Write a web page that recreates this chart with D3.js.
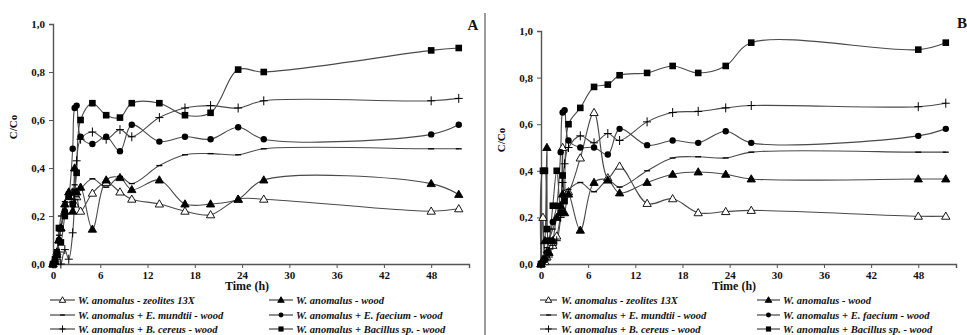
<!DOCTYPE html>
<html>
<head>
<meta charset="utf-8">
<script src="https://cdn.jsdelivr.net/npm/d3@7"></script>
<style>
body{margin:0;background:#fff;}
svg{display:block;}
text{font-family:"Liberation Serif","Times New Roman",serif;fill:#111;}
</style>
</head>
<body>
<svg id="chart" width="967" height="335"></svg>
<script>
// ---------- DATA ----------
const times = [0, 0.25, 0.5, 0.75, 1, 1.5, 2, 2.5, 2.75, 3, 3.5, 5, 6.75, 8.5, 10, 13.5, 16.75, 20, 23.5, 26.75, 48, 51.5];
const xTicks = [0, 6, 12, 18, 24, 30, 36, 42, 48];
const yTicks = [0, 0.2, 0.4, 0.6, 0.8, 1.0];
const seriesNames = [
  "W. anomalus - zeolites 13X",
  "W. anomalus - wood",
  "W. anomalus + E. mundtii - wood",
  "W. anomalus + E. faecium - wood",
  "W. anomalus + B. cereus - wood",
  "W. anomalus + Bacillus sp. - wood"
];
const seriesMarkers = ["triOpen", "triFilled", "dash", "circle", "plus", "square"];

// Panel A
const aZeolites = [0, 0.02, 0.05, 0.1, 0.15, 0.22, 0.27, 0.3, 0.25, 0.28, 0.22, 0.295, 0.34, 0.30, 0.27, 0.25, 0.22, 0.205, 0.27, 0.27, 0.22, 0.23];
const aWood     = [0, 0.01, 0.04, 0.1, 0.15, 0.25, 0.3, 0.22, 0.4, 0.3, 0.32, 0.145, 0.35, 0.36, 0.31, 0.35, 0.25, 0.25, 0.27, 0.35, 0.335, 0.29];
const aMundtii  = [0, 0.03, 0.06, 0.12, 0.2, 0.26, 0.3, 0.27, 0.33, 0.28, 0.31, 0.355, 0.32, 0.365, 0.335, 0.41, 0.455, 0.46, 0.455, 0.48, 0.48, 0.48];
const aFaecium  = [0, 0.02, 0.05, 0.1, 0.15, 0.22, 0.28, 0.48, 0.65, 0.66, 0.53, 0.50, 0.53, 0.47, 0.58, 0.51, 0.53, 0.52, 0.57, 0.52, 0.54, 0.58];
const aCereus   = [0, 0.0, 0.02, 0.05, 0.0, 0.06, 0.02, 0.13, 0.27, 0.43, 0.52, 0.55, 0.52, 0.56, 0.53, 0.61, 0.65, 0.66, 0.65, 0.68, 0.68, 0.69];
const aBacillus = [0, 0.02, 0.04, 0.15, 0.09, 0.2, 0.28, 0.25, 0.3, 0.38, 0.60, 0.67, 0.62, 0.61, 0.67, 0.67, 0.62, 0.63, 0.81, 0.80, 0.89, 0.90];

// Panel B
const bZeolites = [0, 0.2, 0.01, 0.03, 0.05, 0.08, 0.12, 0.22, 0.5, 0.3, 0.31, 0.455, 0.65, 0.37, 0.42, 0.26, 0.28, 0.22, 0.225, 0.23, 0.205, 0.205];
const bWood     = [0, 0.02, 0.1, 0.5, 0.05, 0.1, 0.2, 0.25, 0.3, 0.22, 0.3, 0.145, 0.35, 0.36, 0.305, 0.35, 0.385, 0.395, 0.385, 0.365, 0.365, 0.365];
const bMundtii  = [0, 0.01, 0.03, 0.07, 0.1, 0.15, 0.2, 0.26, 0.22, 0.3, 0.32, 0.35, 0.31, 0.36, 0.33, 0.40, 0.455, 0.46, 0.455, 0.48, 0.48, 0.48];
const bFaecium  = [0, 0.01, 0.02, 0.05, 0.1, 0.18, 0.25, 0.48, 0.65, 0.66, 0.53, 0.50, 0.50, 0.47, 0.58, 0.51, 0.53, 0.52, 0.57, 0.52, 0.55, 0.58];
const bCereus   = [0, 0.01, 0.02, 0.05, 0.03, 0.08, 0.1, 0.2, 0.35, 0.43, 0.5, 0.55, 0.52, 0.56, 0.53, 0.61, 0.65, 0.655, 0.67, 0.68, 0.675, 0.69];
const bBacillus = [0, 0.4, 0.4, 0.15, 0.1, 0.25, 0.4, 0.22, 0.38, 0.27, 0.60, 0.67, 0.76, 0.77, 0.81, 0.82, 0.85, 0.82, 0.85, 0.95, 0.92, 0.95];

const panelA = {label: "A", series: [aZeolites, aWood, aMundtii, aFaecium, aCereus, aBacillus]};
const panelB = {label: "B", series: [bZeolites, bWood, bMundtii, bFaecium, bCereus, bBacillus]};

// ---------- LAYOUT ----------
const svg = d3.select("#chart");
const layouts = [
  {panel: panelA, x0: 53, x1: 469, yTop: 24, yBot: 264, labelX: 473, labelY: 30,
   yLabX: 17, yLabY: 127, timeX: 247,
   leg: {c1Line: [50, 75], c1Text: 78, c2Line: [269, 293], c2Text: 296}},
  {panel: panelB, x0: 541, x1: 956, yTop: 31, yBot: 264, labelX: 962, labelY: 28,
   yLabX: 505, yLabY: 140, timeX: 734,
   leg: {c1Line: [540, 557], c1Text: 561, c2Line: [757, 780], c2Text: 783}}
];

function drawMarker(g, type, x, y, k) {
  k = k || 1;
  const s = 3.3 * k;
  if (type === "triOpen" || type === "triFilled") {
    g.append("path")
      .attr("d", d3.symbol().type(d3.symbolTriangle).size(30 * k * k)())
      .attr("transform", `translate(${x},${y + 0.6 * k})`)
      .attr("fill", type === "triOpen" ? "#fff" : "#000")
      .attr("stroke", "#000").attr("stroke-width", 0.9);
  } else if (type === "circle") {
    g.append("circle").attr("cx", x).attr("cy", y).attr("r", 3.2 * k).attr("fill", "#000");
  } else if (type === "square") {
    g.append("rect").attr("x", x - s).attr("y", y - s).attr("width", 2 * s).attr("height", 2 * s).attr("fill", "#000");
  } else if (type === "plus") {
    g.append("path").attr("d", `M${x - 4 * k},${y}H${x + 4 * k}M${x},${y - 4.5 * k}V${y + 4.5 * k}`)
      .attr("stroke", "#000").attr("stroke-width", 1);
  } else if (type === "dash") {
    g.append("path").attr("d", `M${x - 3 * k},${y}H${x + 3 * k}`).attr("stroke", "#000").attr("stroke-width", 1.3);
  }
}

const fmt = v => d3.format(".1f")(v).replace(".", ",");

layouts.forEach(L => {
  const g = svg.append("g");
  const x = d3.scaleLinear().domain([0, 52.8]).range([L.x0, L.x1]);
  const y = d3.scaleLinear().domain([0, 1]).range([L.yBot, L.yTop]);

  // axes
  const yAxis = d3.axisLeft(y).tickValues(yTicks).tickSize(4).tickPadding(4).tickFormat(fmt);
  const gy = g.append("g").attr("transform", `translate(${L.x0},0)`).call(yAxis);
  const xAxis = d3.axisBottom(x).tickValues(xTicks).tickSize(4).tickPadding(3).tickFormat(d3.format("d"));
  const gx = g.append("g").attr("transform", `translate(0,${L.yBot})`).call(xAxis);
  [gy, gx].forEach(a => {
    a.select(".domain").attr("stroke", "#555").attr("stroke-width", 1.4);
    a.selectAll(".tick line").attr("stroke", "#555").attr("stroke-width", 1);
    a.selectAll(".tick text").attr("font-family", "Liberation Serif").attr("font-weight", "bold")
      .attr("font-size", 11).attr("fill", "#111");
  });

  // axis titles
  g.append("text").attr("transform", `translate(${L.yLabX},${L.yLabY}) rotate(-90)`)
    .attr("text-anchor", "middle").attr("font-size", 11).attr("font-weight", "bold").text("C/Co");
  g.append("text").attr("x", L.timeX).attr("y", L.yBot + 26)
    .attr("text-anchor", "middle").attr("font-size", 12).attr("font-weight", "bold").text("Time (h)");
  g.append("text").attr("x", L.labelX).attr("y", L.labelY)
    .attr("text-anchor", "middle").attr("font-size", 15).attr("font-weight", "bold").text(L.panel.label);

  // lines
  const line = d3.line().x((d, i) => x(times[i])).y(d => y(d)).curve(d3.curveCatmullRom.alpha(0.5));
  L.panel.series.forEach((vals, si) => {
    g.append("path").datum(vals).attr("d", line)
      .attr("fill", "none").attr("stroke", "#4a4a4a").attr("stroke-width", 1.1);
  });
  L.panel.series.forEach((vals, si) => {
    vals.forEach((v, i) => drawMarker(g, seriesMarkers[si], x(times[i]), y(v)));
  });

  // legend
  const rows = [300, 315, 329];
  seriesNames.forEach((name, si) => {
    const col = si % 2 === 0 ? 0 : 1;
    const row = Math.floor(si / 2);
    const line = col === 0 ? L.leg.c1Line : L.leg.c2Line;
    const tx = col === 0 ? L.leg.c1Text : L.leg.c2Text;
    const yy = rows[row];
    g.append("path").attr("d", `M${line[0]},${yy}H${line[1]}`).attr("stroke", "#333").attr("stroke-width", 1.1);
    drawMarker(g, seriesMarkers[si], (line[0] + line[1]) / 2, yy, 0.78);
    g.append("text").attr("x", tx).attr("y", yy + 3.5).attr("font-size", 10.5)
      .attr("font-style", "italic").attr("font-weight", "bold").text(name);
  });
});

// divider between panels
svg.append("line").attr("x1", 485).attr("x2", 485).attr("y1", 13).attr("y2", 335)
  .attr("stroke", "#666").attr("stroke-width", 1.3);
</script>
</body>
</html>
